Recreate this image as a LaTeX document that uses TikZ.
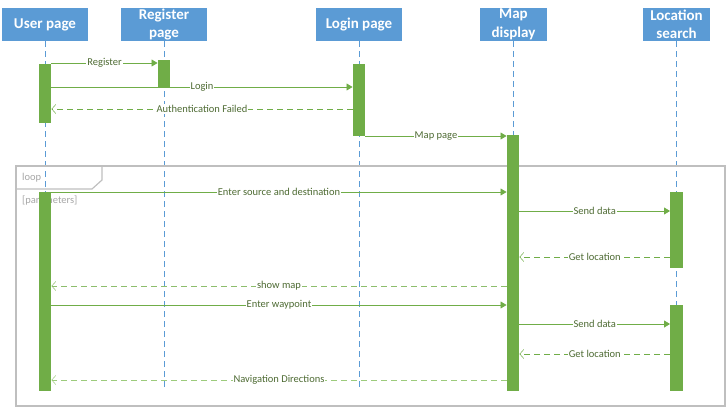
\documentclass[tikz,border=0pt]{standalone}
\usepackage{fontspec}
\setmainfont{Carlito}
\usepackage{tikz}
\usetikzlibrary{arrows.meta,positioning}

\definecolor{headblue}{HTML}{5B9BD5}
\definecolor{barg}{HTML}{70AD47}
\definecolor{lightg}{HTML}{9CCB7C}
\definecolor{txtg}{HTML}{4E6B33}
\definecolor{framegray}{HTML}{BFBFBF}
\definecolor{loopgray}{HTML}{A6A6A6}

\begin{document}
\begin{tikzpicture}[x=1pt,y=-1pt,
		head/.style={fill=headblue, text=white, font=\bfseries\fontsize{15}{18.5}\selectfont, minimum width=86pt, minimum height=33pt, inner sep=0pt, align=center},
		headsmall/.style={head, minimum width=67pt},
		life/.style={draw=headblue, thick, dash pattern=on 6pt off 4pt},
		bar/.style={fill=barg, draw=none, minimum width=12.5pt, inner sep=0pt},
		msg/.style={draw=barg, line width=0.8pt, -{Triangle[length=6pt,width=7pt]}},
		reply/.style={draw=barg, line width=0.8pt, dash pattern=on 6pt off 4pt, -{Straight Barb[length=4pt,width=9pt,line width=0.5pt]}},
		lbl/.style={fill=white, text=txtg, inner sep=1pt, font=\fontsize{10.5}{12}\selectfont},
		frame/.style={draw=framegray, line width=1.2pt},
		looptxt/.style={text=loopgray, anchor=west, inner sep=0pt, font=\fontsize{10.5}{12}\selectfont}
	]
	\useasboundingbox (0,0) rectangle (727,408);

	% Heads
	\node[head] (user) at (45,24.5) {User page};
	\node[head] (reg) at (164,24.5) {Register\\page};
	\node[head] (login) at (359,24.5) {Login page};
	\node[headsmall] (map) at (513.5,24.5) {Map\\display};
	\node[headsmall] (loc) at (676.5,24.5) {Location\\search};

	% Lifelines
	\foreach \h in {user,reg,login,map,loc}
		\draw[life] (\h.south) -- (\h.south |- 0,390);

	% Loop frame
	\draw[frame] (16,166) rectangle (725,406);
	\draw[frame] (16,189) -- (92,189) -- (102,180) -- (102,166);
	\node[looptxt] (looplbl) at (22,177.5) {loop};
	\node[looptxt] (guard) at (22,201) {[parameters]};

	% Activations
	\node[bar, minimum height=59pt] (ub1) at (45,93.5) {};
	\node[bar, minimum height=27pt] (rb) at (164,73.5) {};
	\node[bar, minimum height=72pt] (lb) at (359,100) {};
	\node[bar, minimum height=256pt] (mb) at (513,263) {};
	\node[bar, minimum height=199pt] (ub2) at (45,291.5) {};
	\node[bar, minimum height=76pt] (cb1) at (676.5,230) {};
	\node[bar, minimum height=86pt] (cb2) at (676.5,348) {};

	% Messages
	\draw[msg] (ub1.east |- 0,63) -- node[lbl] (m1) {Register} (rb.west |- 0,63);
	\draw[msg] (ub1.east |- 0,87) -- node[lbl] (m2) {Login} (lb.west |- 0,87);
	\draw[reply] (lb.west |- 0,109) -- node[lbl] (m3) {Authentication Failed} (ub1.east |- 0,109);
	\draw[msg] (lb.east |- 0,136) -- node[lbl] (m4) {Map page} (mb.west |- 0,136);

	% Loop body
	\draw[msg] (ub2.east |- 0,192) -- node[lbl] (m5) {Enter source and destination} (mb.west |- 0,192);
	\draw[msg] (mb.east |- 0,211) -- node[lbl] (m6) {Send data} (cb1.west |- 0,211);
	\draw[reply] (cb1.west |- 0,257) -- node[lbl] (m7) {Get location} (mb.east |- 0,257);
	\draw[reply, draw=barg!80] (mb.west |- 0,286) -- node[lbl] (m8) {show map} (ub2.east |- 0,286);
	\draw[msg] (ub2.east |- 0,305) -- node[lbl] (m9) {Enter waypoint} (mb.west |- 0,305);
	\draw[msg] (mb.east |- 0,324) -- node[lbl] (m10) {Send data} (cb2.west |- 0,324);
	\draw[reply] (cb2.west |- 0,354) -- node[lbl] (m11) {Get location} (mb.east |- 0,354);
	\draw[reply, draw=lightg] (mb.west |- 0,380) -- node[lbl] (m12) {Navigation Directions} (ub2.east |- 0,380);
\end{tikzpicture}
\end{document}
